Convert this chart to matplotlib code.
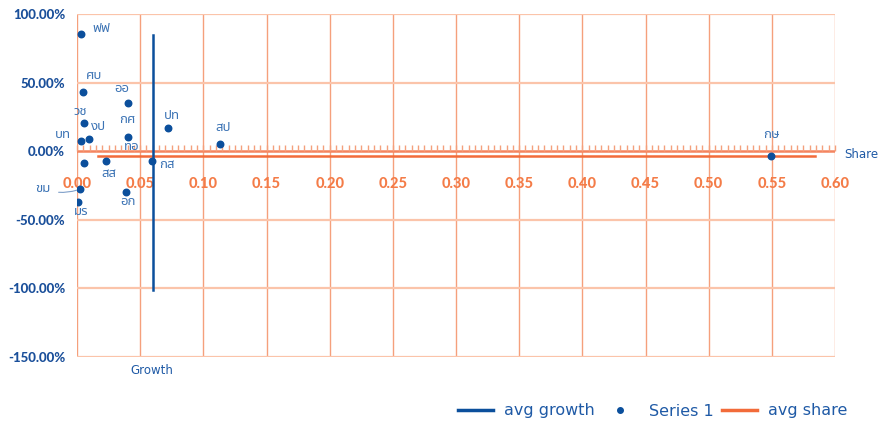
import numpy as np
import matplotlib
matplotlib.use("Agg")
import matplotlib.pyplot as plt
from matplotlib.ticker import MultipleLocator, FuncFormatter
from matplotlib.lines import Line2D

# ข้อมูล
labels = ["ฟฟ", "ศบ", "ออ", "วช", "ปท", "กศ", "งป", "บท", "สป", "ทอ",
          "สส", "กส", "ขม", "มร", "อก", "กษ"]
share = [0.0029, 0.0050, 0.0401, 0.0055, 0.0722, 0.0401, 0.0097, 0.0029,
         0.1132, 0.0055, 0.0227, 0.0594, 0.0021, 0.0010, 0.0388, 0.5496]
growth = [0.853, 0.430, 0.348, 0.202, 0.168, 0.102, 0.090, 0.075,
          0.053, -0.085, -0.073, -0.068, -0.277, -0.367, -0.299, -0.034]
# ตำแหน่งป้าย (พิกเซล เทียบกับจุด)
label_dx = [21, 11, -6, -4, 4, 0, 9, -18, 3, 48, 3, 15, -37, 3, 2, 0]
label_dy = [6, 17, 15, 12, 13, 18, 12, 6, 16, 16, -12, -4, 1, -10, -9, 21]

avg_growth_x = [0.0602, 0.0602]
avg_growth_y = [-1.01, 0.845]
avg_share_x = [0.017, 0.584]
avg_share_y = [-0.034, -0.034]

blue = "#0B4F9C"
label_blue = "#3D74B5"
orange = "#F26B3A"
grid_v = "#F5A07C"
grid_h = "#FBC4AA"

fig = plt.figure(figsize=(8.82, 4.21), dpi=100)
ax = fig.add_axes([77/882, 1-357/421, (835-77)/882, (357-14)/421])

ax.set_xlim(0, 0.6)
ax.set_ylim(-1.5, 1.0)

# เส้นกริด
for gx in np.arange(0.05, 0.6001, 0.05):
    ax.axvline(gx, color=grid_v, lw=1.0, zorder=0)
ax.axvline(0, color=grid_v, lw=1.0, zorder=0)
for gy in [-1.5, -1.0, -0.5, 0.5, 1.0]:
    ax.axhline(gy, color=grid_h, lw=1.6, zorder=0)

for s in ["top", "right", "bottom", "left"]:
    ax.spines[s].set_visible(False)
ax.axhline(0, color="#F4845F", lw=1.8, zorder=1)

# แกน x อยู่ที่ 0
ax.spines["bottom"].set_position(("data", 0))
ax.xaxis.set_major_locator(MultipleLocator(0.05))
ax.xaxis.set_minor_locator(MultipleLocator(0.005))
ax.tick_params(axis="x", which="both", direction="in", color="#F4A07C",
               length=4, width=1, pad=18.5, labelsize=10.5, labelcolor="#F47C48")
ax.xaxis.set_major_formatter(FuncFormatter(lambda v, p: f"{v:.2f}"))
for t in ax.get_xticklabels():
    t.set_fontweight("black")
    t.set_family("Lato")

ax.yaxis.set_major_locator(MultipleLocator(0.5))
ax.yaxis.set_major_formatter(FuncFormatter(lambda v, p: f"{v*100:.2f}%"))
ax.tick_params(axis="y", length=0, pad=8.5, labelsize=9.5, labelcolor="#1A4F9A")
for t in ax.get_yticklabels():
    t.set_fontweight("black")
    t.set_family("Lato")

l1, = ax.plot(avg_growth_x, avg_growth_y, color=blue, lw=1.8, zorder=3)
l3, = ax.plot(avg_share_x, avg_share_y, color=orange, lw=1.8, zorder=2)
ax.scatter(share, growth, s=22, color=blue, zorder=4)

thai = ["Noto Sans Thai", "Noto Sans", "DejaVu Sans"]
for i, name in enumerate(labels):
    if name == "ขม":
        ax.annotate(name, (share[i], growth[i]), xytext=(label_dx[i], label_dy[i]),
                    textcoords="offset pixels", ha="center", va="center",
                    fontsize=9.5, color=label_blue, family=thai,
                    arrowprops=dict(arrowstyle="-", color="#7F9FC9", lw=0.8,
                                    shrinkA=4, shrinkB=2,
                                    connectionstyle="arc3,rad=0.2"))
    else:
        ax.annotate(name, (share[i], growth[i]), xytext=(label_dx[i], label_dy[i]),
                    textcoords="offset pixels", ha="center", va="center",
                    fontsize=9.5, color=label_blue, family=thai)

fig.text(861/882, 1-155/421, "Share", ha="center", va="center",
         fontsize=8.5, color="#1F5AA6")
fig.text(152/882, 1-370/421, "Growth", ha="center", va="center",
         fontsize=8.5, color="#1F5AA6")

handles = [Line2D([], [], color=blue, lw=2.5),
           Line2D([], [], color=blue, marker="o", ls="", markersize=4),
           Line2D([], [], color=orange, lw=2.5)]
leg = fig.legend(handles, ["avg growth", "Series 1", "avg share"],
                 loc="center right", bbox_to_anchor=(862/882, 1-411/421),
                 ncol=3, frameon=False, fontsize=11.5, handlelength=2.2,
                 columnspacing=0.5, handletextpad=0.7)
for t in leg.get_texts():
    t.set_color("#1F5AA6")

fig.savefig("out.png", dpi=100)
